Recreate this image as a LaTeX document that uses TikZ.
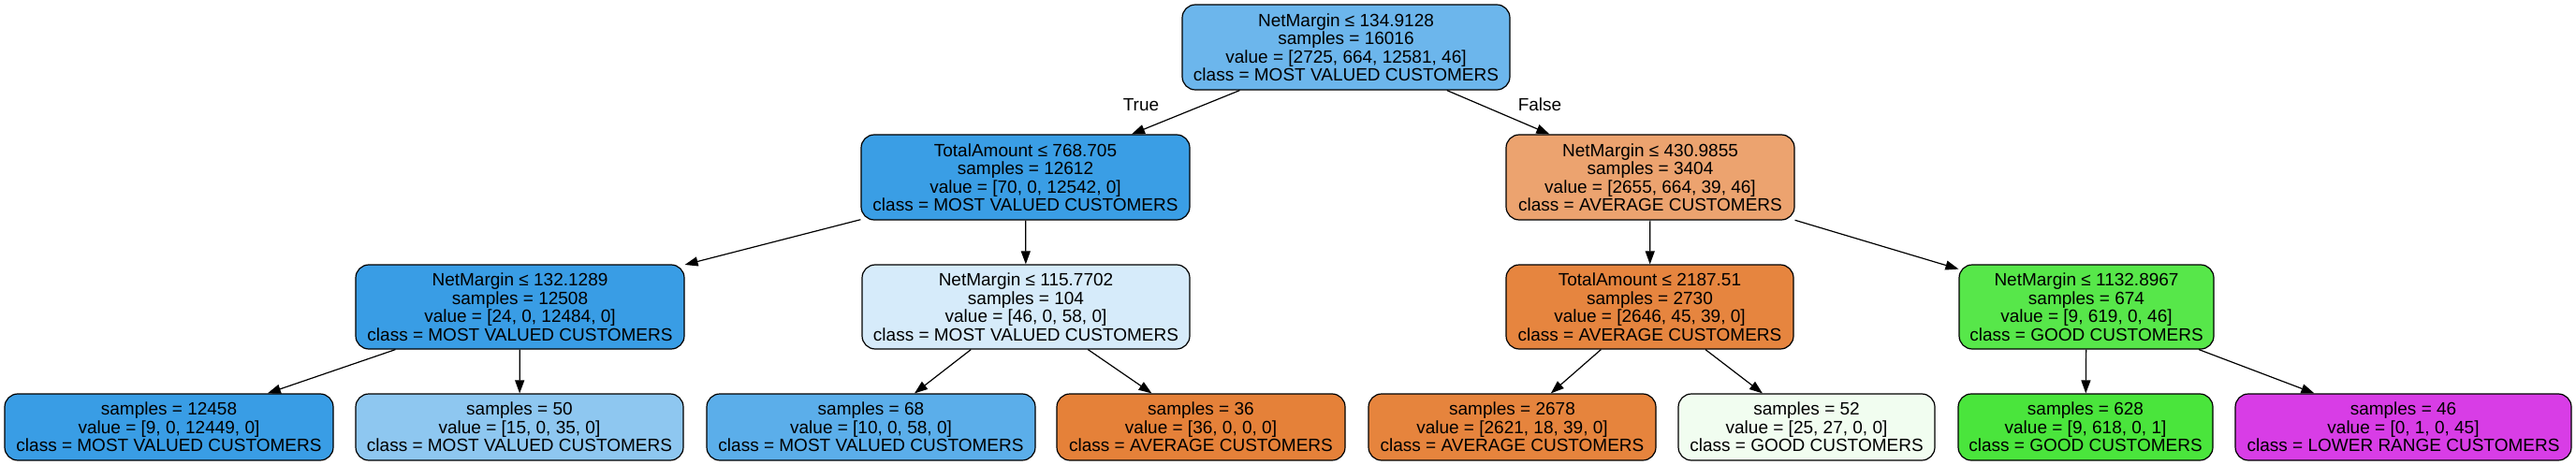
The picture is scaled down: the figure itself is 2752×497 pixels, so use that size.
\documentclass[tikz,border=0pt]{standalone}
\usepackage{fontspec}
\setmainfont{Liberation Sans}
\usetikzlibrary{arrows.meta}
\definecolor{cRoot}{RGB}{108,182,236}
\definecolor{cBlue}{RGB}{58,158,229}
\definecolor{cBlueA}{RGB}{57,157,229}
\definecolor{cPaleBlue}{RGB}{214,235,250}
\definecolor{cMidBlue}{RGB}{142,199,240}
\definecolor{cSkyBlue}{RGB}{91,174,234}
\definecolor{cLightOrange}{RGB}{236,163,111}
\definecolor{cOrange}{RGB}{230,133,63}
\definecolor{cOrangeA}{RGB}{229,129,57}
\definecolor{cOrangeB}{RGB}{230,132,61}
\definecolor{cGreenA}{RGB}{87,231,74}
\definecolor{cGreenB}{RGB}{74,229,60}
\definecolor{cPaleGreen}{RGB}{241,253,240}
\definecolor{cPurple}{RGB}{216,61,230}
\begin{document}
\begin{tikzpicture}[x=1pt,y=-1pt,
  tn/.style={draw=black, line width=1.2pt, rounded corners=14pt, align=center, inner sep=0pt,
    font=\fontsize{19}{19.5}\selectfont},
  inner/.style={tn, minimum height=91pt},
  leaf/.style={tn, minimum height=71pt},
  edge/.style={line width=1.2pt, -{Triangle[length=14pt,width=10pt]}},
  lbl/.style={font=\fontsize{19}{19.5}\selectfont, inner sep=0pt}]
\useasboundingbox (0,0) rectangle (2752,497);
% level 0
\node[inner, fill=cRoot, minimum width=350pt] (root) at (1438,50.5)
  {NetMargin ≤ 134.9128\\samples = 16016\\value = [2725, 664, 12581, 46]\\class = MOST VALUED CUSTOMERS};
% level 1
\node[inner, fill=cBlue, minimum width=351pt] (a) at (1095.5,189.5)
  {TotalAmount ≤ 768.705\\samples = 12612\\value = [70, 0, 12542, 0]\\class = MOST VALUED CUSTOMERS};
\node[inner, fill=cLightOrange, minimum width=308pt] (b) at (1763,189.5)
  {NetMargin ≤ 430.9855\\samples = 3404\\value = [2655, 664, 39, 46]\\class = AVERAGE CUSTOMERS};
% level 2
\node[inner, fill=cBlueA, minimum width=351pt, minimum height=90pt] (aa) at (555.5,328)
  {NetMargin ≤ 132.1289\\samples = 12508\\value = [24, 0, 12484, 0]\\class = MOST VALUED CUSTOMERS};
\node[inner, fill=cPaleBlue, minimum width=350pt, minimum height=90pt] (ab) at (1096,328)
  {NetMargin ≤ 115.7702\\samples = 104\\value = [46, 0, 58, 0]\\class = MOST VALUED CUSTOMERS};
\node[inner, fill=cOrange, minimum width=307pt, minimum height=90pt] (ba) at (1762.5,328)
  {TotalAmount ≤ 2187.51\\samples = 2730\\value = [2646, 45, 39, 0]\\class = AVERAGE CUSTOMERS};
\node[inner, fill=cGreenA, minimum width=272pt, minimum height=90pt] (bb) at (2229,328)
  {NetMargin ≤ 1132.8967\\samples = 674\\value = [9, 619, 0, 46]\\class = GOOD CUSTOMERS};
% leaves
\node[leaf, fill=cBlueA, minimum width=351pt] (l1) at (180.5,456.5)
  {samples = 12458\\value = [9, 0, 12449, 0]\\class = MOST VALUED CUSTOMERS};
\node[leaf, fill=cMidBlue, minimum width=350pt] (l2) at (555,456.5)
  {samples = 50\\value = [15, 0, 35, 0]\\class = MOST VALUED CUSTOMERS};
\node[leaf, fill=cSkyBlue, minimum width=351pt] (l3) at (930.5,456.5)
  {samples = 68\\value = [10, 0, 58, 0]\\class = MOST VALUED CUSTOMERS};
\node[leaf, fill=cOrangeA, minimum width=308pt] (l4) at (1283,456.5)
  {samples = 36\\value = [36, 0, 0, 0]\\class = AVERAGE CUSTOMERS};
\node[leaf, fill=cOrangeB, minimum width=307pt] (l5) at (1615.5,456.5)
  {samples = 2678\\value = [2621, 18, 39, 0]\\class = AVERAGE CUSTOMERS};
\node[leaf, fill=cPaleGreen, minimum width=274pt] (l6) at (1930,456.5)
  {samples = 52\\value = [25, 27, 0, 0]\\class = GOOD CUSTOMERS};
\node[leaf, fill=cGreenB, minimum width=272pt] (l7) at (2228,456.5)
  {samples = 628\\value = [9, 618, 0, 1]\\class = GOOD CUSTOMERS};
\node[leaf, fill=cPurple, minimum width=359pt] (l8) at (2567.5,456.5)
  {samples = 46\\value = [0, 1, 0, 45]\\class = LOWER RANGE CUSTOMERS};
% edges
\draw[edge] (root) -- (a);
\draw[edge] (root) -- (b);
\draw[edge] (a) -- (aa);
\draw[edge] (a) -- (ab);
\draw[edge] (b) -- (ba);
\draw[edge] (b) -- (bb);
\draw[edge] (aa) -- (l1);
\draw[edge] (aa) -- (l2);
\draw[edge] (ab) -- (l3);
\draw[edge] (ab) -- (l4);
\draw[edge] (ba) -- (l5);
\draw[edge] (ba) -- (l6);
\draw[edge] (bb) -- (l7);
\draw[edge] (bb) -- (l8);
% edge labels
\node[lbl] (tlab) at (1219,112) {True};
\node[lbl] (flab) at (1645,112) {False};
\end{tikzpicture}
\end{document}
